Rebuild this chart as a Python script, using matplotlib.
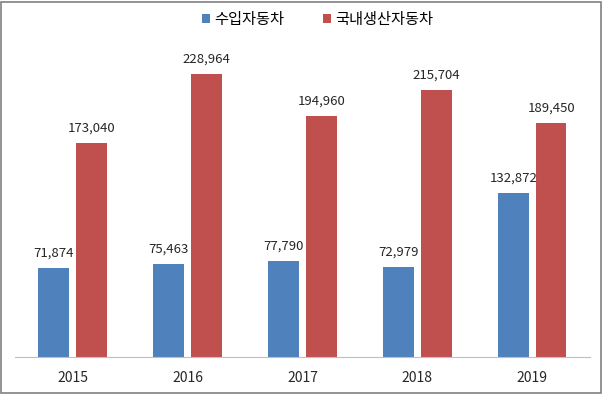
import matplotlib
matplotlib.use("Agg")
import matplotlib.pyplot as plt
import numpy as np
from matplotlib.patches import Rectangle

plt.rcParams['font.family'] = ['Noto Sans CJK KR', 'DejaVu Sans']

years = ['2015', '2016', '2017', '2018', '2019']
imported = [71874, 75463, 77790, 72979, 132872]
domestic = [173040, 228964, 194960, 215704, 189450]
series_names = ['수입자동차', '국내생산자동차']
colors = ['#4F81BD', '#C0504D']

fig = plt.figure(figsize=(6.03, 3.94), dpi=100)
ax = fig.add_axes([0.025, 0.094, 0.953, 0.784])

x = np.arange(len(years))
w = 0.265
off = 0.165
b1 = ax.bar(x - off, imported, w, color=colors[0], label=series_names[0])
b2 = ax.bar(x + off, domestic, w, color=colors[1], label=series_names[1])

for bars, vals in ((b1, imported), (b2, domestic)):
    for r, v in zip(bars, vals):
        ax.annotate(f'{v:,}', (r.get_x() + r.get_width() / 2, v),
                    xytext=(0, 6), textcoords='offset points',
                    ha='center', va='bottom', fontsize=9.5, color='#262626')

ax.set_xlim(-0.5, len(years) - 0.5)
ax.set_ylim(0, 250000)
ax.set_xticks(x)
ax.set_xticklabels(years, fontsize=10, color='#262626')
ax.tick_params(axis='x', length=0, pad=10)
ax.set_yticks([])
for s in ('top', 'right', 'left'):
    ax.spines[s].set_visible(False)
ax.spines['bottom'].set_color('#BFBFBF')

leg = fig.legend(loc='upper center', bbox_to_anchor=(0.527, 1.008), ncol=2,
                 frameon=False, fontsize=11, handlelength=0.5, handleheight=0.5,
                 handletextpad=0.3, columnspacing=2.5)

fig.patches.append(Rectangle((0.002, 0.003), 0.995, 0.993, transform=fig.transFigure,
                             fill=False, edgecolor='#808080', linewidth=1.2))

fig.savefig('out.png', dpi=100)
